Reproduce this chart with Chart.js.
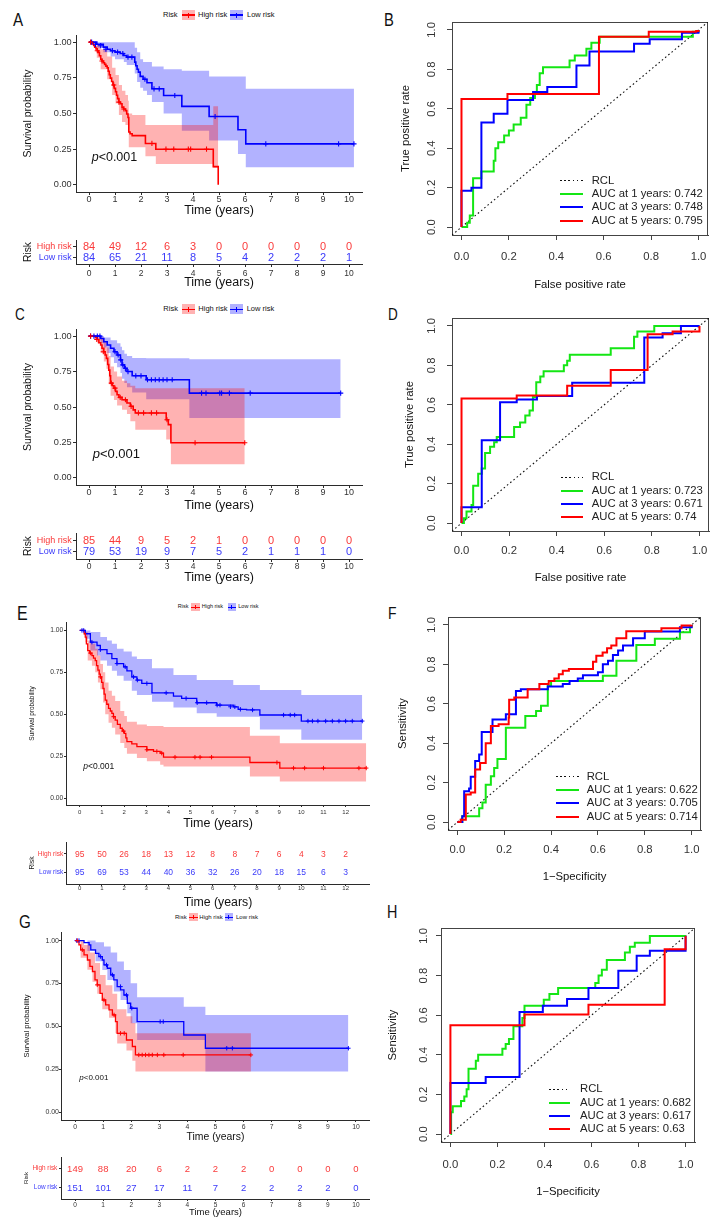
<!DOCTYPE html>
<html>
<head>
<meta charset="utf-8">
<script src="https://cdn.jsdelivr.net/npm/chart.js@4.4.1/dist/chart.umd.min.js"></script>
<style>
body { margin: 0; background: #fff; }
#page { position: relative; width: 724px; height: 1229px; overflow: hidden; background: #fff;
        font-family: "Liberation Sans", Arial, sans-serif; color: #111; }
canvas { position: absolute; }
.t { position: absolute; white-space: nowrap; line-height: 1; transform: translateY(-50%); }
.t.letter { transform: translateY(-50%) scaleX(0.82); transform-origin: left center; }
.sw { position: absolute; transform: translateY(-50%); }
.sw i { position: absolute; left: 0; right: 0; top: 50%; margin-top: -0.75px; height: 1.5px; }
.sw b { position: absolute; left: 50%; top: 25%; bottom: 25%; width: 1px; margin-left: -0.5px; }
.ln { position: absolute; }
</style>
</head>
<body>
<div id="page"></div>
<script>
// ---------- colours / fonts
const FONT = '"Liberation Sans", Arial, sans-serif';
const RED = '#ff0000', BLUE = '#0000ff', GREEN = '#14e614';
const RED_FILL = 'rgba(255,0,0,0.3)', BLUE_FILL = 'rgba(0,0,255,0.3)';
const RED_TXT = '#fa3a3a', BLUE_TXT = '#3a3afa';
const AXIS = '#2b2b2b';

// ---------- panel A (KM)
const aHighCurve = [[0,1],[0.12,0.988],[0.18,0.976],[0.22,0.964],[0.27,0.952],[0.32,0.94],[0.36,0.928],[0.4,0.905],[0.45,0.88],[0.5,0.868],[0.55,0.856],[0.6,0.844],[0.65,0.832],[0.7,0.82],[0.74,0.796],[0.78,0.772],[0.82,0.748],[0.87,0.724],[0.92,0.7],[0.97,0.676],[1.02,0.652],[1.06,0.628],[1.1,0.604],[1.15,0.58],[1.2,0.568],[1.27,0.544],[1.33,0.532],[1.4,0.52],[1.45,0.496],[1.5,0.472],[1.53,0.37],[1.58,0.358],[1.66,0.345],[2.17,0.29],[2.57,0.25],[4.78,0.128],[4.97,0]];
const aHighUpper = [[0,1],[0.3,0.98],[0.45,0.95],[0.7,0.9],[0.89,0.82],[1.02,0.77],[1.15,0.7],[1.27,0.66],[1.4,0.63],[1.5,0.59],[1.53,0.5],[1.66,0.49],[2.17,0.42],[2.57,0.42],[4.78,0.55],[4.97,0.55]];
const aHighLower = [[0,1],[0.3,0.89],[0.45,0.81],[0.7,0.74],[0.89,0.63],[1.02,0.57],[1.15,0.49],[1.27,0.44],[1.4,0.42],[1.5,0.37],[1.53,0.264],[2.17,0.2],[2.57,0.147],[4.78,0.12],[4.97,0.12]];
const aHighCensor = [[0.06,1],[0.32,0.94],[0.5,0.868],[0.95,0.7],[1.15,0.58],[1.34,0.532],[2.42,0.29],[2.96,0.25],[3.26,0.25],[3.82,0.25],[3.91,0.25],[4.52,0.25]];
const aLowCurve = [[0,1],[0.3,0.985],[0.55,0.965],[0.7,0.95],[0.83,0.94],[1.0,0.93],[1.2,0.92],[1.34,0.906],[1.45,0.895],[1.76,0.86],[1.8,0.835],[1.85,0.81],[1.9,0.79],[1.97,0.76],[2.08,0.74],[2.23,0.715],[2.42,0.673],[2.87,0.626],[3.57,0.55],[4.62,0.479],[5.73,0.386],[6.03,0.287],[10.19,0.287]];
const aLowUpper = [[0,1],[1.76,0.96],[1.85,0.93],[1.97,0.88],[2.08,0.86],[2.42,0.83],[2.87,0.81],[3.57,0.8],[4.62,0.76],[6.03,0.673],[10.19,0.673]];
const aLowLower = [[0,1],[0.3,0.96],[0.55,0.93],[0.83,0.9],[1.0,0.88],[1.34,0.86],[1.45,0.84],[1.76,0.78],[1.85,0.72],[1.97,0.68],[2.08,0.66],[2.23,0.63],[2.42,0.58],[2.87,0.5],[3.57,0.38],[4.62,0.31],[5.73,0.217],[6.03,0.124],[10.19,0.124]];
const aLowCensor = [[0.1,1],[0.25,0.985],[0.45,0.975],[0.65,0.95],[0.9,0.94],[1.1,0.93],[1.3,0.92],[1.5,0.895],[1.65,0.895],[2.15,0.74],[2.5,0.673],[2.7,0.673],[3.3,0.626],[4.85,0.479],[6.8,0.287],[9.6,0.287],[10.19,0.287]];
const riskTimes10 = [0,1,2,3,4,5,6,7,8,9,10];
const aHighRisk = [84,49,12,6,3,0,0,0,0,0,0];
const aLowRisk = [84,65,21,11,8,5,4,2,2,2,1];

// ---------- panel C (KM)
const cHighCurve = [[0,1],[0.25,0.988],[0.32,0.976],[0.38,0.953],[0.45,0.937],[0.5,0.914],[0.57,0.89],[0.62,0.867],[0.67,0.843],[0.72,0.8],[0.76,0.76],[0.8,0.72],[0.83,0.668],[0.9,0.65],[0.96,0.633],[1.02,0.61],[1.08,0.586],[1.15,0.568],[1.27,0.551],[1.46,0.528],[1.59,0.505],[1.7,0.48],[1.78,0.458],[2.97,0.41],[3.05,0.376],[3.15,0.248],[5.99,0.248]];
const cHighUpper = [[0,1],[0.45,0.99],[0.57,0.96],[0.67,0.92],[0.76,0.86],[0.83,0.785],[0.96,0.75],[1.08,0.715],[1.27,0.685],[1.46,0.668],[1.59,0.65],[1.78,0.633],[5.99,0.633]];
const cHighLower = [[0,1],[0.32,0.95],[0.45,0.88],[0.57,0.82],[0.67,0.77],[0.76,0.66],[0.83,0.58],[0.96,0.55],[1.08,0.51],[1.27,0.48],[1.46,0.45],[1.59,0.4],[1.78,0.34],[2.97,0.27],[3.15,0.096],[5.99,0.096]];
const cHighCensor = [[0.06,1],[0.3,0.976],[0.55,0.89],[0.86,0.668],[1.0,0.633],[1.2,0.568],[1.4,0.551],[1.62,0.505],[1.9,0.458],[2.1,0.458],[2.4,0.458],[2.6,0.458],[3.0,0.41],[4.08,0.248],[5.99,0.248]];
const cLowCurve = [[0,1],[0.45,0.983],[0.57,0.96],[0.7,0.937],[0.83,0.914],[0.96,0.89],[1.08,0.867],[1.21,0.832],[1.27,0.797],[1.36,0.773],[1.46,0.75],[1.66,0.72],[2.2,0.692],[3.86,0.598],[9.68,0.598]];
const cLowUpper = [[0,1],[0.57,0.99],[0.83,0.97],[1.08,0.95],[1.21,0.925],[1.27,0.9],[1.36,0.875],[1.46,0.86],[1.66,0.845],[2.2,0.843],[3.86,0.836],[9.68,0.836]];
const cLowLower = [[0,1],[0.45,0.95],[0.57,0.92],[0.7,0.88],[0.83,0.85],[0.96,0.81],[1.08,0.78],[1.21,0.74],[1.27,0.7],[1.36,0.67],[1.46,0.64],[1.66,0.603],[2.2,0.555],[3.86,0.423],[9.68,0.423]];
const cLowCensor = [[0.06,1],[0.19,1],[0.32,1],[0.42,1],[1.0,0.89],[1.12,0.867],[1.22,0.832],[1.3,0.797],[1.4,0.773],[1.5,0.75],[1.8,0.72],[2.0,0.72],[2.25,0.692],[2.4,0.692],[2.55,0.692],[2.7,0.692],[2.85,0.692],[3.0,0.692],[3.2,0.692],[4.33,0.598],[4.5,0.598],[5.03,0.598],[5.1,0.598],[5.4,0.598],[6.2,0.598],[9.68,0.598]];
const cHighRisk = [85,44,9,5,2,1,0,0,0,0,0];
const cLowRisk = [79,53,19,9,7,5,2,1,1,1,0];

// ---------- panel E (KM)
const eHighCurve = [[0,1],[0.2,0.98],[0.25,0.96],[0.3,0.92],[0.36,0.88],[0.45,0.865],[0.55,0.85],[0.62,0.835],[0.7,0.82],[0.76,0.79],[0.82,0.763],[0.88,0.74],[0.93,0.723],[0.99,0.69],[1.05,0.654],[1.1,0.62],[1.15,0.585],[1.22,0.56],[1.3,0.536],[1.38,0.52],[1.45,0.506],[1.52,0.486],[1.6,0.466],[1.7,0.44],[1.83,0.417],[1.92,0.4],[2.01,0.387],[2.08,0.36],[2.13,0.338],[2.35,0.324],[2.58,0.308],[3.03,0.289],[3.33,0.279],[3.63,0.269],[3.78,0.245],[7.68,0.213],[9.03,0.18],[12.93,0.18]];
const eHighUpper = [[0,1],[0.25,0.99],[0.36,0.94],[0.55,0.92],[0.7,0.89],[0.82,0.85],[0.93,0.8],[1.05,0.75],[1.15,0.69],[1.3,0.64],[1.45,0.61],[1.6,0.58],[1.83,0.52],[2.01,0.49],[2.13,0.456],[2.58,0.44],[3.03,0.43],[3.78,0.425],[7.68,0.372],[9.03,0.328],[12.93,0.328]];
const eHighLower = [[0,1],[0.25,0.93],[0.36,0.82],[0.55,0.79],[0.7,0.75],[0.82,0.69],[0.93,0.65],[1.05,0.57],[1.15,0.5],[1.3,0.45],[1.45,0.42],[1.6,0.38],[1.83,0.33],[2.01,0.3],[2.13,0.265],[2.58,0.24],[3.03,0.22],[3.63,0.2],[3.78,0.19],[7.68,0.13],[9.03,0.1],[12.93,0.1]];
const eHighCensor = [[0.48,0.865],[0.93,0.723],[1.53,0.486],[1.98,0.4],[3.03,0.289],[3.48,0.279],[3.7,0.269],[4.3,0.245],[5.2,0.245],[5.43,0.245],[5.95,0.245],[8.9,0.213],[9.65,0.18],[10.15,0.18],[11.0,0.18],[12.6,0.18],[12.93,0.18]];
const eLowCurve = [[0,1],[0.25,0.98],[0.48,0.93],[0.78,0.91],[0.93,0.885],[1.23,0.862],[1.45,0.832],[1.68,0.802],[1.98,0.783],[2.13,0.759],[2.35,0.723],[2.58,0.704],[2.8,0.684],[3.26,0.628],[4.23,0.609],[4.6,0.595],[5.28,0.569],[6.18,0.555],[6.93,0.545],[7.15,0.53],[7.53,0.526],[8.13,0.496],[10.0,0.46],[12.75,0.46]];
const eLowUpper = [[0,1],[0.48,0.99],[0.93,0.96],[1.23,0.94],[1.45,0.92],[1.68,0.89],[1.98,0.875],[2.35,0.845],[2.58,0.83],[3.26,0.775],[4.23,0.735],[5.28,0.705],[6.93,0.675],[8.13,0.645],[10.0,0.615],[12.75,0.615]];
const eLowLower = [[0,1],[0.25,0.95],[0.48,0.88],[0.78,0.85],[0.93,0.82],[1.23,0.79],[1.45,0.76],[1.68,0.73],[1.98,0.7],[2.35,0.64],[2.58,0.615],[3.26,0.575],[4.23,0.54],[5.28,0.506],[6.18,0.486],[8.13,0.41],[10.0,0.348],[12.75,0.348]];
const eLowCensor = [[0.1,1],[0.18,1],[0.55,0.93],[0.93,0.885],[1.68,0.802],[2.05,0.783],[2.43,0.723],[2.6,0.704],[3.03,0.684],[3.9,0.628],[4.8,0.595],[5.3,0.569],[5.73,0.569],[6.2,0.555],[6.33,0.555],[6.8,0.545],[7.0,0.545],[7.25,0.53],[7.8,0.526],[9.2,0.496],[9.5,0.496],[9.7,0.496],[10.3,0.46],[10.5,0.46],[10.75,0.46],[11.1,0.46],[11.4,0.46],[11.7,0.46],[12.0,0.46],[12.3,0.46],[12.75,0.46]];
const riskTimes12 = [0,1,2,3,4,5,6,7,8,9,10,11,12];
const eHighRisk = [95,50,26,18,13,12,8,8,7,6,4,3,2];
const eLowRisk = [95,69,53,44,40,36,32,26,20,18,15,6,3];

// ---------- panel G (KM)
const gHighCurve = [[0,1],[0.14,0.975],[0.2,0.946],[0.32,0.917],[0.44,0.887],[0.53,0.85],[0.62,0.82],[0.71,0.771],[0.79,0.742],[0.89,0.693],[0.97,0.654],[1.09,0.625],[1.21,0.596],[1.33,0.567],[1.44,0.528],[1.5,0.46],[1.83,0.421],[2.04,0.383],[2.15,0.334],[6.26,0.334]];
const gHighUpper = [[0,1],[0.32,0.975],[0.53,0.93],[0.71,0.87],[0.89,0.8],[1.09,0.74],[1.33,0.69],[1.5,0.6],[1.83,0.56],[2.04,0.52],[2.15,0.46],[6.26,0.46]];
const gHighLower = [[0,1],[0.2,0.9],[0.44,0.83],[0.62,0.76],[0.79,0.69],[0.97,0.6],[1.21,0.55],[1.44,0.46],[1.5,0.4],[1.83,0.36],[2.04,0.3],[2.15,0.237],[6.26,0.237]];
const gHighCensor = [[0.08,1],[0.26,0.946],[0.79,0.742],[1.03,0.654],[1.39,0.567],[1.62,0.46],[1.75,0.46],[2.27,0.334],[2.39,0.334],[2.51,0.334],[2.63,0.334],[2.75,0.334],[2.93,0.334],[3.16,0.334],[3.85,0.334],[6.26,0.334]];
const gLowCurve = [[0,1],[0.32,0.988],[0.5,0.975],[0.56,0.946],[0.73,0.926],[0.85,0.907],[0.97,0.887],[1.03,0.858],[1.15,0.839],[1.27,0.8],[1.38,0.771],[1.5,0.732],[1.62,0.713],[1.74,0.683],[1.86,0.635],[1.98,0.606],[2.21,0.528],[3.87,0.45],[4.64,0.373],[9.73,0.373]];
const gLowUpper = [[0,1],[0.73,0.99],[1.03,0.965],[1.27,0.93],[1.5,0.878],[1.74,0.829],[1.98,0.751],[2.21,0.67],[3.87,0.615],[4.64,0.567],[9.73,0.567]];
const gLowLower = [[0,1],[0.44,0.94],[0.73,0.88],[0.97,0.829],[1.15,0.771],[1.38,0.703],[1.62,0.654],[1.86,0.577],[1.98,0.518],[2.21,0.421],[4.64,0.237],[9.73,0.237]];
const gLowCensor = [[0.06,1],[0.14,1],[0.91,0.907],[1.12,0.858],[1.33,0.8],[1.62,0.732],[1.83,0.683],[2.02,0.606],[3.03,0.528],[3.14,0.528],[5.4,0.373],[5.6,0.373],[9.73,0.373]];
const gHighRisk = [149,88,20,6,2,2,2,0,0,0,0];
const gLowRisk = [151,101,27,17,11,7,2,2,2,2,0];

// ---------- ROC panels (B, D, F, H)
const rocYears = [1, 3, 5];
const rcl = [[-0.04,-0.04],[1.04,1.04]];
const bRoc1 = [[0,0],[0.024,0.022],[0.035,0.059],[0.049,0.248],[0.084,0.282],[0.136,0.336],[0.143,0.4],[0.155,0.43],[0.18,0.465],[0.2,0.49],[0.22,0.52],[0.25,0.555],[0.274,0.62],[0.29,0.655],[0.31,0.68],[0.318,0.72],[0.33,0.78],[0.344,0.81],[0.456,0.845],[0.478,0.87],[0.527,0.905],[0.548,0.935],[0.583,0.965],[0.976,0.99],[1,1]];
const bRoc3 = [[0,0],[0,0.185],[0.042,0.2],[0.084,0.53],[0.136,0.575],[0.194,0.645],[0.302,0.685],[0.362,0.71],[0.485,0.82],[0.54,0.89],[0.728,0.93],[0.794,0.953],[0.93,0.985],[1,1]];
const bRoc5 = [[0,0],[0,0.65],[0.194,0.675],[0.58,0.965],[0.79,0.99],[0.99,0.995],[1,1]];
const bAuc = ['0.742', '0.748', '0.795'];
const dRoc1 = [[0,0],[0.01,0.025],[0.021,0.059],[0.042,0.092],[0.049,0.19],[0.07,0.25],[0.085,0.277],[0.099,0.356],[0.12,0.387],[0.137,0.41],[0.148,0.437],[0.221,0.487],[0.246,0.51],[0.268,0.546],[0.286,0.571],[0.3,0.64],[0.314,0.714],[0.331,0.743],[0.345,0.77],[0.43,0.8],[0.444,0.823],[0.455,0.854],[0.627,0.886],[0.725,0.945],[0.739,0.971],[0.81,1],[1,1]];
const dRoc3 = [[0,0],[0,0.08],[0.085,0.42],[0.162,0.613],[0.232,0.627],[0.317,0.645],[0.465,0.712],[0.768,0.941],[0.845,0.963],[0.922,1],[1,1]];
const dRoc5 = [[0,0],[0,0.632],[0.232,0.647],[0.444,0.697],[0.627,0.776],[0.782,0.958],[0.887,0.971],[1,0.971],[1,1]];
const dAuc = ['0.723', '0.671', '0.74'];
const fRoc1 = [[0,0],[0.021,0.03],[0.093,0.07],[0.107,0.1],[0.121,0.19],[0.143,0.233],[0.157,0.275],[0.171,0.32],[0.207,0.479],[0.29,0.538],[0.336,0.564],[0.357,0.59],[0.386,0.69],[0.4,0.716],[0.621,0.742],[0.679,0.818],[0.764,0.898],[0.843,0.93],[0.95,0.963],[0.993,0.99],[1,1]];
const fRoc3 = [[0,0],[0.021,0.03],[0.029,0.156],[0.05,0.17],[0.057,0.23],[0.076,0.31],[0.093,0.343],[0.104,0.457],[0.15,0.52],[0.207,0.547],[0.25,0.665],[0.271,0.674],[0.386,0.688],[0.45,0.7],[0.479,0.716],[0.514,0.728],[0.536,0.745],[0.6,0.76],[0.621,0.8],[0.643,0.818],[0.664,0.847],[0.686,0.87],[0.707,0.895],[0.75,0.932],[0.8,0.966],[0.95,0.988],[1,1]];
const fRoc5 = [[0,0],[0.014,0.012],[0.036,0.14],[0.057,0.15],[0.076,0.267],[0.097,0.3],[0.121,0.4],[0.143,0.487],[0.176,0.496],[0.219,0.53],[0.221,0.62],[0.243,0.632],[0.3,0.674],[0.35,0.7],[0.39,0.716],[0.414,0.728],[0.433,0.75],[0.45,0.767],[0.476,0.776],[0.579,0.813],[0.593,0.844],[0.62,0.86],[0.639,0.881],[0.657,0.895],[0.679,0.932],[0.721,0.968],[0.871,0.983],[0.957,0.997],[1,1]];
const fAuc = ['0.622', '0.705', '0.714'];
const hRoc1 = [[0,0],[0.003,0.11],[0.01,0.14],[0.045,0.167],[0.059,0.19],[0.069,0.226],[0.077,0.33],[0.108,0.37],[0.118,0.4],[0.221,0.43],[0.235,0.455],[0.249,0.48],[0.268,0.544],[0.306,0.586],[0.315,0.648],[0.397,0.678],[0.421,0.707],[0.458,0.737],[0.616,0.762],[0.63,0.8],[0.644,0.829],[0.665,0.879],[0.742,0.916],[0.763,0.945],[0.784,0.966],[0.848,1],[1,1]];
const hRoc3 = [[0,0],[0,0.258],[0.15,0.288],[0.294,0.616],[0.393,0.648],[0.496,0.682],[0.587,0.737],[0.714,0.824],[0.792,0.9],[0.848,0.925],[1,0.925],[1,1]];
const hRoc5 = [[0,0],[0,0.549],[0.315,0.603],[0.587,0.653],[0.911,0.933],[1,0.933],[1,1]];
const hAuc = ['0.682', '0.617', '0.63'];

const survTicks = [0, 0.25, 0.5, 0.75, 1];
const rocTicks = [0, 0.2, 0.4, 0.6, 0.8, 1];

// ---------- helpers
const page = document.getElementById('page');

function pts(arr) { return arr.map(p => ({x: p[0], y: p[1]})); }

function canvasFor(area, m) {
  const c = document.createElement('canvas');
  const w = area.r - area.l + m.l + m.r, h = area.b - area.t + m.t + m.b;
  c.width = w; c.height = h;
  c.style.left = (area.l - m.l) + 'px';
  c.style.top = (area.t - m.t) + 'px';
  c.style.width = w + 'px';
  c.style.height = h + 'px';
  page.appendChild(c);
  return c;
}

function fixSize(prop, v) {
  return s => { s[prop] = v; s.paddingLeft = s.paddingRight = s.paddingTop = s.paddingBottom = 0; };
}

function xAxis(o) {
  const lh = o.font * 1.2, tlh = o.titleFont * 1.2;
  return {
    type: 'linear', min: o.min, max: o.max, bounds: 'data',
    afterBuildTicks: s => { s.ticks = o.ticks.map(v => ({value: v})); },
    afterFit: fixSize('height', o.m.b),
    grid: {display: true, drawOnChartArea: false, drawTicks: true, tickLength: o.tickLen, color: o.axisColor || AXIS, lineWidth: 1},
    border: {display: true, color: o.axisColor || AXIS, width: 1},
    ticks: {autoSkip: false, maxRotation: 0, minRotation: 0, color: '#333',
            padding: o.labelY - (o.area.b + o.tickLen + lh / 2),
            font: {family: FONT, size: o.font, lineHeight: 1.2}, callback: o.fmt},
    title: {display: true, text: o.title, color: '#111',
            font: {family: FONT, size: o.titleFont, lineHeight: 1.2},
            padding: {top: 0, bottom: (o.area.b + o.m.b) - o.titleY - tlh / 2}}
  };
}

function yAxis(o) {
  const tlh = o.titleFont * 1.2;
  return {
    type: 'linear', min: o.min, max: o.max, bounds: 'data',
    afterBuildTicks: s => { s.ticks = o.ticks.map(v => ({value: v})); },
    afterFit: fixSize('width', o.m.l),
    grid: {display: true, drawOnChartArea: false, drawTicks: true, tickLength: o.tickLen, color: o.axisColor || AXIS, lineWidth: 1},
    border: {display: true, color: o.axisColor || AXIS, width: 1},
    ticks: {display: o.showLabels !== false, autoSkip: false, color: o.labelColor || '#333',
            padding: o.area.l - o.tickLen - (o.labelRight || 0),
            font: {family: FONT, size: o.font, lineHeight: 1.2}, callback: o.fmt},
    title: {display: true, text: o.title, color: '#111',
            font: {family: FONT, size: o.titleFont, lineHeight: 1.2},
            padding: {top: o.titleX - (o.area.l - o.m.l) - tlh / 2, bottom: 0}}
  };
}

function baseOptions(m, scales, plugins) {
  return {
    responsive: false, animation: false, events: [],
    layout: {autoPadding: false, padding: {left: 0, top: m.t, right: m.r, bottom: 0}},
    plugins: Object.assign({legend: {display: false}, tooltip: {enabled: false}}, plugins || {}),
    scales
  };
}

// risk table numbers, drawn where the library puts each point
const riskText = {
  id: 'riskText',
  afterDatasetsDraw(chart, args, o) {
    const ctx = chart.ctx;
    ctx.save();
    ctx.font = o.size + 'px ' + FONT;
    ctx.textAlign = 'center';
    ctx.textBaseline = 'middle';
    chart.data.datasets.forEach((d, i) => {
      ctx.fillStyle = d.textColor;
      chart.getDatasetMeta(i).data.forEach((el, j) => ctx.fillText(String(d.counts[j]), el.x, el.y + 0.5));
    });
    ctx.restore();
  }
};

// R style box + rotated y tick labels
const rocFrame = {
  id: 'rocFrame',
  beforeDatasetsDraw(chart) {
    const a = chart.chartArea, ctx = chart.ctx;
    ctx.save();
    ctx.strokeStyle = '#444';
    ctx.lineWidth = 1;
    ctx.strokeRect(Math.round(a.left) + 0.5, Math.round(a.top) + 0.5, Math.round(a.right - a.left) - 1, Math.round(a.bottom - a.top));
    ctx.restore();
  },
  afterDraw(chart, args, o) {
    const y = chart.scales.y, ctx = chart.ctx;
    ctx.save();
    ctx.font = o.size + 'px ' + FONT;
    ctx.fillStyle = '#333';
    ctx.textAlign = 'center';
    ctx.textBaseline = 'middle';
    y.ticks.forEach(t => {
      ctx.save();
      ctx.translate(chart.chartArea.left - o.dx, y.getPixelForValue(t.value));
      ctx.rotate(-Math.PI / 2);
      ctx.fillText(t.value.toFixed(1), 0, 0);
      ctx.restore();
    });
    ctx.restore();
  }
};

function text(x, y, html, css, cls) {
  const d = document.createElement('div');
  d.className = 't' + (cls ? ' ' + cls : '');
  d.style.left = x + 'px';
  d.style.top = y + 'px';
  d.style.cssText += css || '';
  d.innerHTML = html;
  page.appendChild(d);
  return d;
}

function letter(ch, x, y, size) {
  text(x, y, ch, 'font-size:' + size + 'px;color:#111;', 'letter');
}

function swatch(x, y, w, h, color, fill) {
  const d = document.createElement('div');
  d.className = 'sw';
  d.style.cssText = `left:${x}px;top:${y}px;width:${w}px;height:${h}px;background:${fill};`;
  d.innerHTML = `<i style="background:${color}"></i><b style="background:${color}"></b>`;
  page.appendChild(d);
}

function kmLegend(y, xs, size, swW, swH) {
  text(xs[0], y, 'Risk', `font-size:${size}px;`);
  swatch(xs[1], y, swW, swH, RED, RED_FILL);
  text(xs[2], y, 'High risk', `font-size:${size}px;`);
  swatch(xs[3], y, swW, swH, BLUE, BLUE_FILL);
  text(xs[4], y, 'Low risk', `font-size:${size}px;`);
}

function pval(x, y, size) {
  text(x, y, '<i>p</i>&lt;0.001', `font-size:${size}px;color:#111;`);
}

function kmPanel(p) {
  const ds = [];
  p.groups.forEach(g => {
    ds.push({data: pts(g.upper), stepped: 'before', borderWidth: 0, borderColor: 'rgba(0,0,0,0)', backgroundColor: g.fill, fill: '+1', pointRadius: 0, order: 3});
    ds.push({data: pts(g.lower), stepped: 'before', borderWidth: 0, borderColor: 'rgba(0,0,0,0)', fill: false, pointRadius: 0, order: 3});
  });
  p.groups.forEach(g => {
    ds.push({data: pts(g.curve), stepped: 'before', borderColor: g.color, borderWidth: p.lineW, fill: false, pointRadius: 0, order: 1});
    ds.push({data: pts(g.censor), showLine: false, fill: false, pointStyle: 'cross', pointRadius: p.crossR,
             pointBorderColor: g.color, pointBackgroundColor: g.color, pointBorderWidth: p.crossW, order: 0});
  });
  new Chart(canvasFor(p.area, p.m), {
    type: 'line',
    data: {datasets: ds},
    options: baseOptions(p.m, {
      x: xAxis(Object.assign({area: p.area, m: p.m, title: 'Time (years)', fmt: v => String(v)}, p.x)),
      y: yAxis(Object.assign({area: p.area, m: p.m, title: 'Survival probability', ticks: survTicks, fmt: v => v.toFixed(2)}, p.y))
    })
  });
}

function riskPanel(p) {
  const ds = [
    {data: p.times.map(t => ({x: t, y: 1})), counts: p.high, textColor: RED_TXT, showLine: false, pointRadius: 0},
    {data: p.times.map(t => ({x: t, y: 0})), counts: p.low, textColor: BLUE_TXT, showLine: false, pointRadius: 0}
  ];
  new Chart(canvasFor(p.area, p.m), {
    type: 'line',
    data: {datasets: ds},
    plugins: [riskText],
    options: baseOptions(p.m, {
      x: xAxis(Object.assign({area: p.area, m: p.m, title: 'Time (years)', ticks: p.times, fmt: v => String(v)}, p.x)),
      y: yAxis(Object.assign({area: p.area, m: p.m, title: 'Risk', ticks: [0, 1],
                fmt: v => (v === 1 ? 'High risk' : 'Low risk'),
                labelColor: c => (c.tick && c.tick.value === 1 ? RED_TXT : BLUE_TXT)}, p.y))
    }, {riskText: {size: p.numSize}})
  });
}

function rocPanel(p) {
  const ds = [
    {data: pts(p.r5), stepped: 'before', borderColor: RED, borderWidth: 2, pointRadius: 0, fill: false, order: 0},
    {data: pts(p.r3), stepped: 'before', borderColor: BLUE, borderWidth: 2, pointRadius: 0, fill: false, order: 1},
    {data: pts(p.r1), stepped: 'before', borderColor: GREEN, borderWidth: 2, pointRadius: 0, fill: false, order: 2},
    {data: pts(rcl), borderColor: '#111', borderWidth: 1.1, borderDash: [1.6, 2.6], pointRadius: 0, fill: false, order: 3}
  ];
  const common = {area: p.area, m: p.m, min: -0.04, max: 1.04, ticks: rocTicks, font: 11.3, tickLen: 5, titleFont: 11.3, axisColor: '#444', fmt: v => v.toFixed(1)};
  new Chart(canvasFor(p.area, p.m), {
    type: 'line',
    data: {datasets: ds},
    plugins: [rocFrame],
    options: baseOptions(p.m, {
      x: xAxis(Object.assign({}, common, {title: p.xTitle, labelY: p.labelY, titleY: p.titleY})),
      y: yAxis(Object.assign({}, common, {title: p.yTitle, showLabels: false, titleX: p.titleX}))
    }, {rocFrame: {dx: p.yLabelDx, size: 11.3}})
  });
  // legend (bottom right, no box)
  const items = [{label: 'RCL', color: '#111', dash: true}].concat(
    rocYears.map((yr, i) => ({label: `AUC at ${yr} years: ${p.auc[i]}`, color: [GREEN, BLUE, RED][i]})));
  items.forEach((it, i) => {
    const y = p.legY[i];
    const d = document.createElement('div');
    d.className = 'ln';
    if (it.dash) {
      d.style.cssText = `left:${p.legX[0]}px;top:${y - 0.6}px;width:${p.legX[1] - p.legX[0]}px;height:1.2px;` +
        'background:repeating-linear-gradient(to right,#111 0 1.6px,transparent 1.6px 4.2px);';
    } else {
      d.style.cssText = `left:${p.legX[0]}px;top:${y - 1}px;width:${p.legX[1] - p.legX[0]}px;height:2px;background:${it.color};`;
    }
    page.appendChild(d);
    text(p.legX[2], y, it.label, 'font-size:11.3px;color:#222;');
  });
}

// ================= Panel A =================
letter('A', 13, 20, 18.5);
kmLegend(15, [163, 182, 198, 230, 247], 7.5, 13, 10);
kmPanel({
  area: {l: 76, t: 35, r: 362, b: 192}, m: {l: 76, t: 8, r: 8, b: 28},
  lineW: 1.6, crossR: 2.6, crossW: 1.1,
  x: {min: -0.5, max: 10.5, ticks: riskTimes10, font: 9, tickLen: 3, labelY: 200, titleFont: 12.5, titleY: 211},
  y: {min: -0.05, max: 1.05, font: 9.2, tickLen: 3, labelRight: 71.7, titleFont: 10.5, titleX: 28},
  groups: [
    {curve: aHighCurve, upper: aHighUpper, lower: aHighLower, censor: aHighCensor, color: RED, fill: RED_FILL},
    {curve: aLowCurve, upper: aLowUpper, lower: aLowLower, censor: aLowCensor, color: BLUE, fill: BLUE_FILL}
  ]
});
pval(91.7, 156.7, 12.5);
riskPanel({
  area: {l: 76, t: 240, r: 362, b: 264}, m: {l: 76, t: 4, r: 8, b: 28},
  times: riskTimes10, high: aHighRisk, low: aLowRisk, numSize: 11,
  x: {min: -0.5, max: 10.5, font: 8.5, tickLen: 3, labelY: 273.3, titleFont: 12.5, titleY: 282.7},
  y: {min: -0.6, max: 1.6, font: 9, tickLen: 3, labelRight: 71.7, titleFont: 10.3, titleX: 28}
});

// ================= Panel B =================
letter('B', 384, 20, 18);
rocPanel({
  area: {l: 452, t: 22, r: 708, b: 235}, m: {l: 60, t: 22, r: 12, b: 60},
  r1: bRoc1, r3: bRoc3, r5: bRoc5, auc: bAuc,
  xTitle: 'False positive rate', yTitle: 'True positive rate',
  labelY: 256.7, titleY: 285, titleX: 406, yLabelDx: 20.6,
  legX: [560, 583, 591.7], legY: [180.8, 194.1, 207.4, 220.7]
});

// ================= Panel C =================
letter('C', 15, 314, 16.5);
kmLegend(309.3, [163.3, 182, 198.3, 230, 246.7], 7.5, 13, 10);
kmPanel({
  area: {l: 76, t: 329, r: 362, b: 485}, m: {l: 76, t: 8, r: 8, b: 30},
  lineW: 1.6, crossR: 2.6, crossW: 1.1,
  x: {min: -0.5, max: 10.5, ticks: riskTimes10, font: 9, tickLen: 3, labelY: 492.7, titleFont: 12.5, titleY: 506},
  y: {min: -0.05, max: 1.05, font: 9.2, tickLen: 3, labelRight: 71.7, titleFont: 10.5, titleX: 28.3},
  groups: [
    {curve: cHighCurve, upper: cHighUpper, lower: cHighLower, censor: cHighCensor, color: RED, fill: RED_FILL},
    {curve: cLowCurve, upper: cLowUpper, lower: cLowLower, censor: cLowCensor, color: BLUE, fill: BLUE_FILL}
  ]
});
pval(92.7, 452.7, 13);
riskPanel({
  area: {l: 76, t: 533, r: 362, b: 559}, m: {l: 76, t: 4, r: 8, b: 28},
  times: riskTimes10, high: cHighRisk, low: cLowRisk, numSize: 11,
  x: {min: -0.5, max: 10.5, font: 8.5, tickLen: 3, labelY: 566.5, titleFont: 12.5, titleY: 578},
  y: {min: -0.62, max: 1.62, font: 9, tickLen: 3, labelRight: 71.7, titleFont: 10.3, titleX: 28.3}
});

// ================= Panel D =================
letter('D', 388, 314, 16.5);
rocPanel({
  area: {l: 452, t: 318, r: 709, b: 531}, m: {l: 60, t: 8, r: 12, b: 60},
  r1: dRoc1, r3: dRoc3, r5: dRoc5, auc: dAuc,
  xTitle: 'False positive rate', yTitle: 'True positive rate',
  labelY: 550.7, titleY: 578.3, titleX: 410, yLabelDx: 20.6,
  legX: [560.7, 583.3, 591.7], legY: [477.4, 490.7, 504, 517.3]
});

// ================= Panel E =================
letter('E', 16.5, 613.5, 19.5);
kmLegend(607.3, [177.7, 191, 201.7, 227.7, 238.3], 5.5, 8.5, 8);
kmPanel({
  area: {l: 66, t: 622, r: 370, b: 805}, m: {l: 66, t: 8, r: 0, b: 26},
  lineW: 1.3, crossR: 2.2, crossW: 1,
  x: {min: -0.62, max: 13.1, ticks: riskTimes12, font: 6, tickLen: 2, labelY: 812.7, titleFont: 12.5, titleY: 823.3},
  y: {min: -0.04, max: 1.05, font: 6.7, tickLen: 2, labelRight: 63.3, titleFont: 6.5, titleX: 32.3},
  groups: [
    {curve: eHighCurve, upper: eHighUpper, lower: eHighLower, censor: eHighCensor, color: RED, fill: RED_FILL},
    {curve: eLowCurve, upper: eLowUpper, lower: eLowLower, censor: eLowCensor, color: BLUE, fill: BLUE_FILL}
  ]
});
pval(83.3, 766, 8.5);
riskPanel({
  area: {l: 66, t: 842, r: 370, b: 884}, m: {l: 66, t: 4, r: 0, b: 26},
  times: riskTimes12, high: eHighRisk, low: eLowRisk, numSize: 8.5,
  x: {min: -0.62, max: 13.1, font: 6, tickLen: 2, labelY: 888.5, titleFont: 12.3, titleY: 902.3},
  y: {min: -0.6, max: 1.62, font: 6.6, tickLen: 2, labelRight: 63.3, titleFont: 6.8, titleX: 32.3}
});

// ================= Panel F =================
letter('F', 388, 613.3, 17);
rocPanel({
  area: {l: 448, t: 617, r: 701, b: 830}, m: {l: 60, t: 8, r: 12, b: 56},
  r1: fRoc1, r3: fRoc3, r5: fRoc5, auc: fAuc,
  xTitle: '1\u2212Specificity', yTitle: 'Sensitivity',
  labelY: 850, titleY: 876.7, titleX: 403.3, yLabelDx: 16,
  legX: [555.7, 579, 586.7], legY: [776.8, 790.1, 803.4, 816.7]
});

// ================= Panel G =================
letter('G', 18.5, 921.7, 18.5);
kmLegend(917.3, [175, 189, 199.3, 224.5, 236], 6, 8.5, 8);
kmPanel({
  area: {l: 61, t: 932, r: 370, b: 1120}, m: {l: 61, t: 8, r: 0, b: 24},
  lineW: 1.3, crossR: 2.2, crossW: 1,
  x: {min: -0.5, max: 10.5, ticks: riskTimes10, font: 6.8, tickLen: 2, labelY: 1127.3, titleFont: 10.4, titleY: 1136.7},
  y: {min: -0.045, max: 1.05, font: 7, tickLen: 2, labelRight: 59, titleFont: 7.5, titleX: 26.7},
  groups: [
    {curve: gHighCurve, upper: gHighUpper, lower: gHighLower, censor: gHighCensor, color: RED, fill: RED_FILL},
    {curve: gLowCurve, upper: gLowUpper, lower: gLowLower, censor: gLowCensor, color: BLUE, fill: BLUE_FILL}
  ]
});
pval(79.3, 1078.3, 8);
riskPanel({
  area: {l: 61, t: 1157, r: 370, b: 1199}, m: {l: 61, t: 4, r: 0, b: 22},
  times: riskTimes10, high: gHighRisk, low: gLowRisk, numSize: 9.5,
  x: {min: -0.5, max: 10.5, font: 6.5, tickLen: 2, labelY: 1205, titleFont: 9.5, titleY: 1212.7},
  y: {min: -0.6, max: 1.61, font: 6.4, tickLen: 2, labelRight: 57.3, titleFont: 6.2, titleX: 26.7}
});

// ================= Panel H =================
letter('H', 387, 913, 17.5);
rocPanel({
  area: {l: 441, t: 928, r: 695, b: 1142}, m: {l: 60, t: 8, r: 12, b: 60},
  r1: hRoc1, r3: hRoc3, r5: hRoc5, auc: hAuc,
  xTitle: '1\u2212Specificity', yTitle: 'Sensitivity',
  labelY: 1165, titleY: 1191.7, titleX: 393.3, yLabelDx: 17.4,
  legX: [549, 570, 580], legY: [1089.4, 1102.7, 1116, 1129.3]
});
</script>
</body>
</html>
